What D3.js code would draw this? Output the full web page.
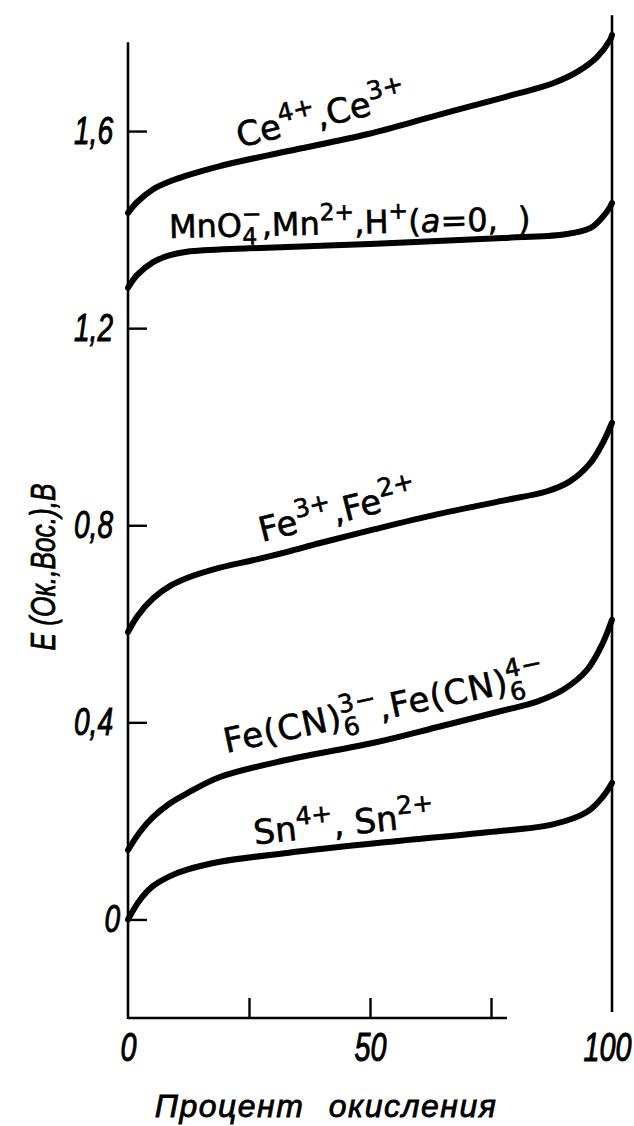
<!DOCTYPE html>
<html><head><meta charset="utf-8">
<script src="https://cdn.jsdelivr.net/npm/d3@7"></script>
<style>
html,body{margin:0;padding:0;background:#fff;}
svg{display:block;}
text{white-space:pre;}
</style></head><body>
<svg id="chart" width="634" height="1126"></svg>
<script>
// ---- data (percent oxidised, potential E in V) ----
const ceX = [0, 1.9, 5.2, 8.7, 12.2, 19, 32.9, 49.6, 63.8, 77.5, 87.8, 92.8, 96.9, 99.6, 100];
const ceY = [1.434, 1.456, 1.482, 1.498, 1.510, 1.529, 1.559, 1.594, 1.632, 1.668, 1.697, 1.720, 1.750, 1.785, 1.795];

const mnX = [0, 1.9, 5.2, 8.7, 12.2, 25, 50, 77.5, 89.9, 95.5, 98.1, 99.6, 100];
const mnY = [1.282, 1.308, 1.334, 1.348, 1.355, 1.362, 1.371, 1.383, 1.390, 1.403, 1.426, 1.446, 1.454];

const feX = [0, 1.9, 5.2, 8.7, 12.2, 19, 25.8, 32.9, 39.7, 51, 63.8, 77.5, 86.6, 91.3, 95.5, 98.1, 100];
const feY = [0.583, 0.615, 0.652, 0.677, 0.693, 0.714, 0.729, 0.746, 0.764, 0.792, 0.822, 0.850, 0.869, 0.889, 0.926, 0.967, 1.008];

const fcX = [0, 2.5, 5.2, 8.7, 12.2, 19, 32.9, 51, 63.8, 77.5, 84.5, 89.9, 94.8, 98.1, 100];
const fcY = [0.141, 0.178, 0.208, 0.236, 0.256, 0.289, 0.324, 0.359, 0.390, 0.424, 0.442, 0.466, 0.506, 0.561, 0.608];

const snX = [0, 2.5, 5.2, 8.7, 12.2, 19, 32.9, 53.5, 74.2, 87.8, 94.8, 98.1, 100];
const snY = [0, 0.040, 0.068, 0.088, 0.101, 0.117, 0.135, 0.157, 0.177, 0.193, 0.218, 0.249, 0.277];

const yTickValues = [0, 0.4, 0.8, 1.2, 1.6];
const yTickLabels = ["0", "0,4", "0,8", "1,2", "1,6"];
const xTickMarks = [25, 50, 75];
const xTickValues = [0, 50, 100];
const xTickLabels = ["0", "50", "100"];
const yTitle = "E (Ок.,Вос.),В";
const xTitle = "Процент окисления";

// ---- layout ----
const W = 634, H = 1126;
const ink = "#000";
const italicFont = "'Liberation Sans', Arimo, sans-serif";
const labelFont = "'DejaVu Sans', sans-serif";
const squeeze = 0.72;

const svg = d3.select("#chart");
svg.append("rect").attr("width", W).attr("height", H).attr("fill", "#fff");

const x = d3.scaleLinear().domain([0, 100]).range([128, 612]);
const y = d3.scaleLinear().domain([-0.2, 1.8]).range([1018, 32.5]);

// frame lines
svg.append("line").attr("x1", x(0)).attr("x2", x(0)).attr("y1", y(-0.2) + 1).attr("y2", y(1.78))
  .attr("stroke", ink).attr("stroke-width", 2.6);
svg.append("line").attr("x1", x(0)).attr("x2", x(78.3)).attr("y1", y(-0.2)).attr("y2", y(-0.2))
  .attr("stroke", ink).attr("stroke-width", 2.6);
svg.append("line").attr("x1", x(100)).attr("x2", x(100)).attr("y1", y(-0.188)).attr("y2", y(1.835))
  .attr("stroke", ink).attr("stroke-width", 2.6);

// y axis ticks + labels
const gy = svg.append("g").attr("transform", `translate(${x(0)},0)`)
  .call(d3.axisLeft(y).tickValues(yTickValues).tickSizeInner(-19).tickSizeOuter(0).tickPadding(15)
    .tickFormat((d, i) => yTickLabels[i]));
gy.select(".domain").remove();
gy.selectAll(".tick line").attr("stroke", ink).attr("stroke-width", 2.4);
gy.selectAll(".tick text").attr("font-family", italicFont).attr("font-style", "italic")
  .attr("font-size", 39).attr("fill", ink).attr("stroke", ink).attr("stroke-width", 1)
  .attr("x", (d, i) => (i === 0 ? -8 : -15) / squeeze).attr("transform", `scale(${squeeze},1)`);

// x axis tick marks
const gx = svg.append("g").attr("transform", `translate(0,${y(-0.2)})`)
  .call(d3.axisBottom(x).tickValues(xTickMarks).tickSizeInner(-20).tickSizeOuter(0).tickFormat(""));
gx.select(".domain").remove();
gx.selectAll(".tick line").attr("stroke", ink).attr("stroke-width", 2.4);

// x axis labels
const gxl = svg.append("g").attr("transform", `translate(0,${y(-0.2)})`)
  .call(d3.axisBottom(x).tickValues(xTickValues).tickSize(0).tickPadding(15)
    .tickFormat((d, i) => xTickLabels[i]));
gxl.select(".domain").remove();
gxl.selectAll(".tick line").remove();
gxl.selectAll(".tick text").attr("font-family", italicFont).attr("font-style", "italic")
  .attr("font-size", 40).attr("fill", ink).attr("stroke", ink).attr("stroke-width", 1)
  .attr("x", (d, i) => (i === xTickValues.length - 1 ? -5 : 0) / squeeze)
  .attr("transform", `scale(${squeeze},1)`);

// axis titles
svg.append("text").attr("transform", `translate(55,567) rotate(-90) scale(0.75,1)`)
  .attr("text-anchor", "middle").attr("font-family", italicFont).attr("font-style", "italic")
  .attr("font-size", 35).attr("fill", ink).attr("stroke", ink).attr("stroke-width", 0.8).text(yTitle);
svg.append("text").attr("x", 326).attr("y", 1117)
  .attr("text-anchor", "middle").attr("font-family", italicFont).attr("font-style", "italic")
  .attr("font-size", 32).attr("letter-spacing", 1.5).attr("word-spacing", 14)
  .attr("fill", ink).attr("stroke", ink).attr("stroke-width", 0.8).text(xTitle);

// curves
const series = [
  { xs: ceX, ys: ceY },
  { xs: mnX, ys: mnY },
  { xs: feX, ys: feY },
  { xs: fcX, ys: fcY },
  { xs: snX, ys: snY }
];
const line = d3.line().x(d => x(d[0])).y(d => y(d[1])).curve(d3.curveCatmullRom.alpha(0.5));
svg.append("g").selectAll("path").data(series).join("path")
  .attr("d", s => line(s.xs.map((v, i) => [v, s.ys[i]])))
  .attr("fill", "none").attr("stroke", ink).attr("stroke-width", 6)
  .attr("stroke-linecap", "round").attr("stroke-linejoin", "round");

// curve labels (rich text)
const labels = [
  { at: [23.1, 1.566], angle: -14, fs: 34, ls: 0, parts: ["Ce", { sup: "4+" }, ",Ce", { sup: "3+" }] },
  { at: [8.5, 1.383], angle: -1.3, fs: 32, ls: 0, parts: ["MnO", { sub: "4", sup: "\u2212" }, ",Mn", { sup: "2+" }, ",H", { sup: "+" }, "(", { it: "a" }, "=0,  )"] },
  { at: [27.7, 0.766], angle: -14, fs: 34, ls: 0, parts: ["Fe", { sup: "3+" }, ",Fe", { sup: "2+" }] },
  { at: [20.3, 0.338], angle: -12, fs: 34, ls: 1, parts: ["Fe(CN)", { sub: "6", sup: "3\u2212" }, ",Fe(CN)", { sub: "6", sup: "4\u2212" }] },
  { at: [26.2, 0.152], angle: -6, fs: 34, ls: 0, parts: ["Sn", { sup: "4+" }, ", Sn", { sup: "2+" }] }
];
labels.forEach(L => {
  const FS = L.fs, SFS = FS * 0.735, SUP = -FS * 0.44, SUB = FS * 0.26;
  const t = svg.append("text")
    .attr("transform", `translate(${x(L.at[0])},${y(L.at[1])}) rotate(${L.angle})`)
    .attr("font-family", labelFont).attr("font-size", FS).attr("letter-spacing", L.ls)
    .attr("fill", ink).attr("stroke", ink).attr("stroke-width", 0.6);
  let cur = 0, pendingDx = 0;
  const add = (txt, off, size, extra) => {
    const ts = t.append("tspan").attr("dy", off - cur).text(txt);
    if (size) ts.attr("font-size", size);
    if (pendingDx) { ts.attr("dx", pendingDx); pendingDx = 0; }
    if (extra) extra(ts);
    cur = off;
    return ts;
  };
  L.parts.forEach(p => {
    if (typeof p === "string") add(p, 0);
    else if (p.it) add(p.it, 0, null, ts => ts.attr("font-style", "italic"));
    else if (p.sub && p.sup) {
      const s1 = add(p.sub, SUB, SFS);
      const w1 = s1.node().getComputedTextLength();
      const s2 = add(p.sup, SUP, SFS, ts => ts.attr("dx", -w1 - L.ls));
      const w2 = s2.node().getComputedTextLength();
      if (w2 < w1) pendingDx = w1 - w2;
    }
    else if (p.sup) add(p.sup, SUP, SFS);
    else if (p.sub) add(p.sub, SUB, SFS);
  });
});
</script>
</body></html>
